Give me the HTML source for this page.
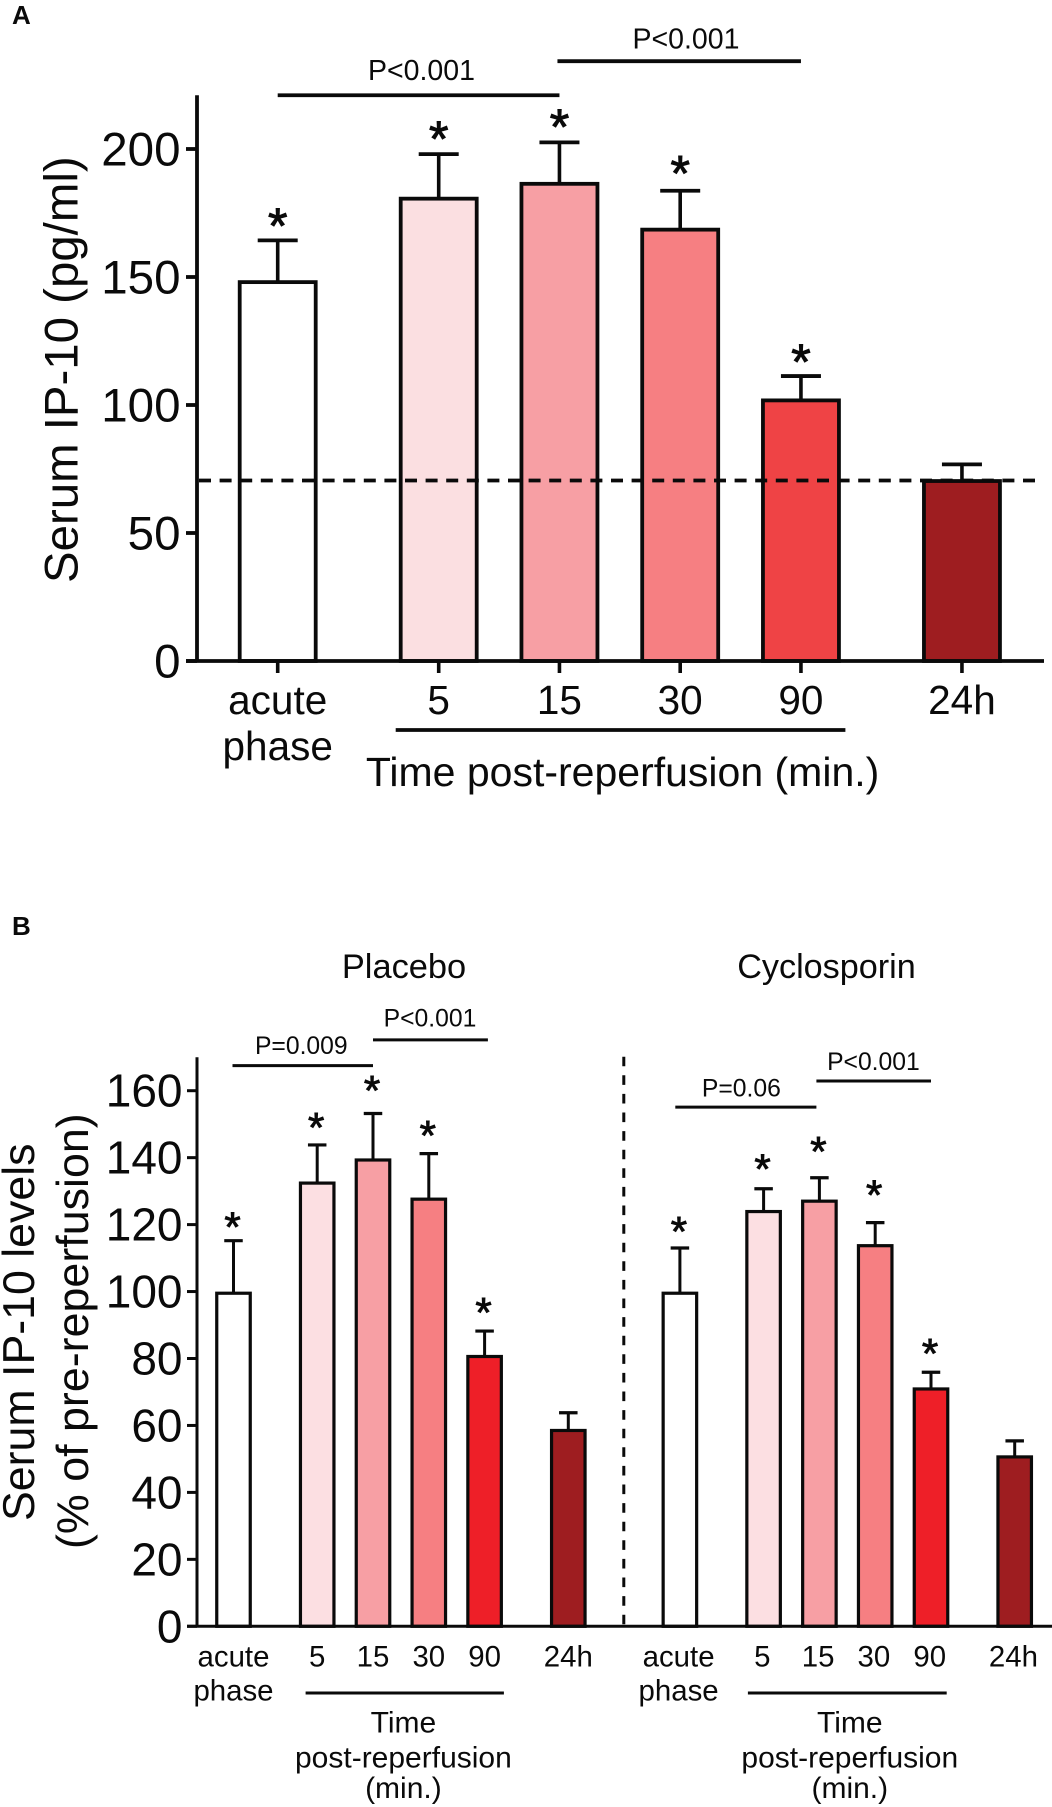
<!DOCTYPE html>
<html lang="en">
<head>
<meta charset="utf-8">
<title>Serum IP-10 levels</title>
<style>
html,body{margin:0;padding:0;background:#fff}
svg{display:block}
text{font-family:"Liberation Sans",Arial,sans-serif;fill:#0a0a0a}
</style>
</head>
<body>
<svg id="figure" xmlns="http://www.w3.org/2000/svg" width="1052" height="1807" viewBox="0 0 1052 1807">
  <rect x="0" y="0" width="1052" height="1807" fill="#fff"/>
  <text x="12" y="24" font-size="26" font-weight="bold">A</text>
  <text x="12" y="935" font-size="26" font-weight="bold">B</text>
  <text transform="translate(77.7,583) rotate(-90)" font-size="47.4">Serum IP-10 (pg/ml)</text>
  <text x="622.6" y="786" font-size="41" text-anchor="middle">Time post-reperfusion (min.)</text>
  <text transform="translate(34,1521) rotate(-90)" font-size="44.7">Serum IP-10 levels</text>
  <text transform="translate(88,1549) rotate(-90)" font-size="44.8">(% of pre-reperfusion)</text>
  <text x="404" y="978" font-size="34.4" text-anchor="middle">Placebo</text>
  <text x="826.5" y="978" font-size="34.2" text-anchor="middle">Cyclosporin</text>
  <g id="chart-layer"></g>
</svg>
<script>
// Panel A data
const panelACategories = ['acute', '5', '15', '30', '90', '24h'];
const panelAValues = [148, 180.6, 186.4, 168.5, 101.8, 70.3];
const panelAErrorTops = [164.3, 198, 202.6, 183.7, 111.3, 76.8];
const panelAStarLevels = [173, 207, 211.7, 193.5, 120, null];
const panelAYTicks = [0, 50, 100, 150, 200];
const panelAYMax = 221;
const panelAReference = 70.5;
const panelAColors = ['#ffffff', '#fbdfe1', '#f79fa4', '#f67f82', '#ef4345', '#9e1d20'];

// Panel B data
const panelBCategories = ['acute', '5', '15', '30', '90', '24h'];
const placeboValues = [99.5, 132.4, 139.3, 127.6, 80.6, 58.5];
const placeboErrorTops = [115.2, 143.8, 153.2, 141.2, 88.2, 63.8];
const placeboStarLevels = [121.2, 151, 162, 148.6, 95.7, null];
const cyclosporinValues = [99.5, 123.9, 127, 113.7, 70.9, 50.6];
const cyclosporinErrorTops = [113, 130.7, 134, 120.6, 75.9, 55.4];
const cyclosporinStarLevels = [119.9, 138.5, 143.8, 130.8, 83.4, null];
const panelBYTicks = [0, 20, 40, 60, 80, 100, 120, 140, 160];
const panelBYMax = 170;
const panelBColors = ['#ffffff', '#fcdfe2', '#f79fa4', '#f67f82', '#ee1f28', '#9e1d20'];

const INK = '#0a0a0a';
const SVG_NS = 'http://www.w3.org/2000/svg';
const layer = document.getElementById('chart-layer');

function mark(tag, name, attrs, text) {
  const el = document.createElementNS(SVG_NS, tag);
  
  
  for (const key of Object.keys(attrs)) el.setAttribute(key, attrs[key]);
  if (text !== undefined) el.textContent = text;
  layer.appendChild(el);
  return el;
}
function line(name, x1, y1, x2, y2, width, dash) {
  const attrs = {x1: x1, y1: y1, x2: x2, y2: y2, stroke: INK, 'stroke-width': width};
  if (dash) attrs['stroke-dasharray'] = dash;
  return mark('line', name, attrs);
}
function label(name, x, y, size, text, anchor) {
  return mark('text', name, {x: x, y: y, 'font-size': size, 'text-anchor': anchor || 'middle'}, text);
}

// Axis functions
const yA = v => 661 - v * 2.56;
const xA = i => 277.7 + 120.75 * (i + (i > 0 ? 1 / 3 : 0) + (i > 4 ? 1 / 3 : 0));
const yB = v => 1626.3 - v * 3.3475;
const xPlacebo = i => 233.5 + 55.8 * (i + (i > 0 ? 0.5 : 0) + (i > 4 ? 0.5 : 0));
const xCyclosporin = i => xPlacebo(i) + 446.4;

function drawBars(prefix, cats, vals, tops, stars, colors, x, y, o) {
  cats.forEach((cat, i) => {
    const cx = x(i);
    line(prefix + '-error-stem-' + cat, cx, y(vals[i]), cx, y(tops[i]), o.stem);
    line(prefix + '-error-cap-' + cat, cx - o.cap / 2, y(tops[i]), cx + o.cap / 2, y(tops[i]), o.capStroke);
    mark('rect', prefix + '-bar-' + cat, {
      x: cx - o.w / 2, y: y(vals[i]), width: o.w, height: y(0) - y(vals[i]),
      fill: colors[i], stroke: INK, 'stroke-width': o.stroke
    });
    if (stars[i] !== null) {
      const star = label(prefix + '-significance-star-' + cat, cx + o.starDx, y(stars[i]) + o.starSize * 0.5, o.starSize, '*');
      star.setAttribute('stroke', INK);
      star.setAttribute('stroke-width', o.starStroke);
    }
  });
}
function drawYAxis(prefix, ticks, y, yMax, o) {
  line(prefix + '-y-axis', 197, y(yMax), 197, y(0), o.width);
  ticks.forEach(t => {
    line(prefix + '-y-tick-' + t, o.tickStart, y(t), 197, y(t), o.tickWidth);
    label(prefix + '-y-tick-label-' + t, o.labelX, y(t) + o.labelDy, o.size, String(t), 'end');
  });
}

// ---- Panel A ----
drawBars('panel-a', panelACategories, panelAValues, panelAErrorTops, panelAStarLevels, panelAColors, xA, yA,
  {w: 76, stroke: 3.8, stem: 3.6, cap: 40, capStroke: 3.8, starDx: 0, starSize: 50, starStroke: 1});
drawYAxis('panel-a', panelAYTicks, yA, panelAYMax, {width: 3.8, tickStart: 186, tickWidth: 3.8, labelX: 180.5, labelDy: 16.5, size: 47.5});
line('panel-a-x-axis', 186, yA(0), 1044, yA(0), 3.8);
panelACategories.forEach((cat, i) => {
  line('panel-a-x-tick-' + cat, xA(i), yA(0), xA(i), 673, 3.6);
  label('panel-a-x-label-' + cat, xA(i), 714, 40.5, cat);
});
label('panel-a-x-label-phase', xA(0), 760, 40.5, 'phase');
line('panel-a-reference-line', 199, yA(panelAReference), 1035, yA(panelAReference), 3.8, '12 8.6');
line('panel-a-time-bracket', 395.7, 730, 845.4, 730, 3.8);
line('panel-a-comparison-line-acute-15', xA(0), yA(221), xA(2), yA(221), 3.8);
line('panel-a-comparison-line-15-90', xA(2) - 2, yA(234.3), xA(4), yA(234.3), 3.8);
label('panel-a-p-value-acute-15', 421.5, 80, 28.5, 'P<0.001');
label('panel-a-p-value-15-90', 686, 48.3, 28.5, 'P<0.001');

// ---- Panel B ----
drawBars('placebo', panelBCategories, placeboValues, placeboErrorTops, placeboStarLevels, panelBColors, xPlacebo, yB,
  {w: 33.5, stroke: 3.2, stem: 3, cap: 18.5, capStroke: 3.2, starDx: -1, starSize: 42, starStroke: 0.9});
drawBars('cyclosporin', panelBCategories, cyclosporinValues, cyclosporinErrorTops, cyclosporinStarLevels, panelBColors, xCyclosporin, yB,
  {w: 33.5, stroke: 3.2, stem: 3, cap: 18.5, capStroke: 3.2, starDx: -1, starSize: 42, starStroke: 0.9});
drawYAxis('panel-b', panelBYTicks, yB, panelBYMax, {width: 3, tickStart: 187, tickWidth: 3, labelX: 182.5, labelDy: 16, size: 46});
line('panel-b-x-axis', 187, yB(0), 1052, yB(0), 3);
line('panel-b-divider', 623.8, 1056.7, 623.8, yB(0), 3, '9.6 9');

[['placebo', xPlacebo, 0, -11.6, 19.3], ['cyclosporin', xCyclosporin, -1.3, -15.7, 15.7]].forEach(group => {
  const prefix = group[0], x = group[1], labelShift = group[2], bracketLeft = group[3], bracketRight = group[4];
  panelBCategories.forEach((cat, i) => {
    label(prefix + '-x-label-' + cat, x(i) + labelShift, 1666.7, 29.4, cat);
  });
  label(prefix + '-x-label-phase', x(0) + labelShift, 1700.7, 29.4, 'phase');
  const mid = (x(1) + x(4)) / 2;
  label(prefix + '-time-title-line-1', mid + 2.5, 1732.7, 30, 'Time');
  label(prefix + '-time-title-line-2', mid + 2.5, 1767.3, 30, 'post-reperfusion');
  label(prefix + '-time-title-line-3', mid + 2.5, 1798, 30, '(min.)');
  line(prefix + '-time-bracket', x(1) + bracketLeft, 1693, x(4) + bracketRight, 1693, 3);
});

line('placebo-comparison-line-acute-15', xPlacebo(0) - 1, yB(167.5), xPlacebo(2), yB(167.5), 3);
line('placebo-comparison-line-15-90', xPlacebo(2), yB(175.2), xPlacebo(4) + 3.3, yB(175.2), 3);
label('placebo-p-value-acute-15', 301.3, 1054, 24.7, 'P=0.009');
label('placebo-p-value-15-90', 430, 1026.7, 24.7, 'P<0.001');
line('cyclosporin-comparison-line-acute-15', xCyclosporin(0) - 4.6, yB(155.1), xCyclosporin(2) - 3, yB(155.1), 3);
line('cyclosporin-comparison-line-15-90', xCyclosporin(2) - 3, yB(162.9), xCyclosporin(4), yB(162.9), 3);
label('cyclosporin-p-value-acute-15', 741.4, 1096.7, 24.7, 'P=0.06');
label('cyclosporin-p-value-15-90', 873.4, 1070, 24.7, 'P<0.001');
</script>
</body>
</html>
